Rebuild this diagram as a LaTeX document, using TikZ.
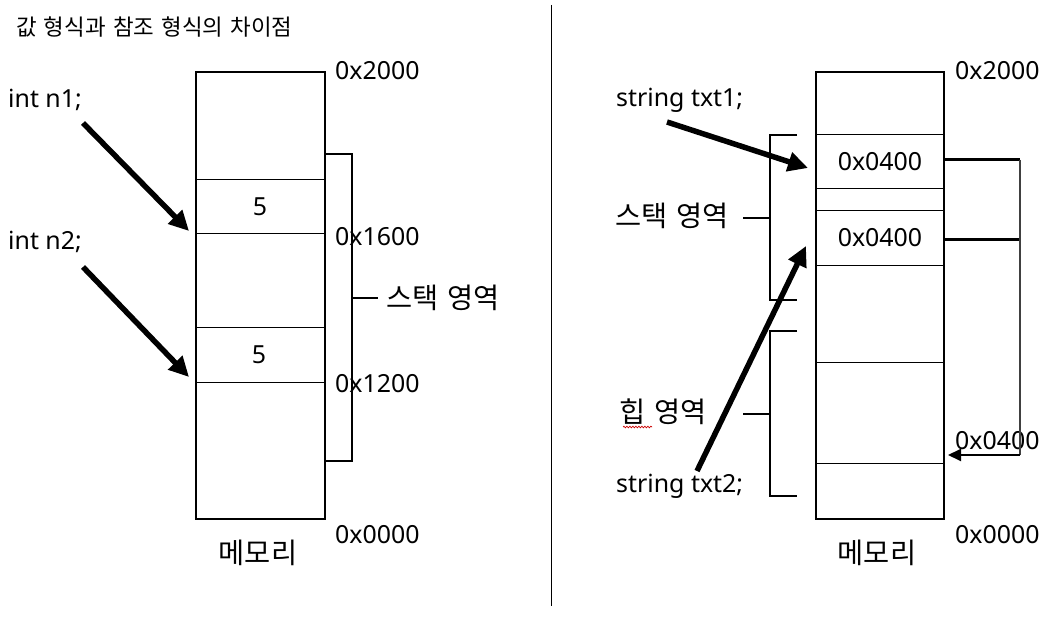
\documentclass[tikz,border=0pt]{standalone}
\usepackage{fontspec}
\setmainfont{Noto Sans}
\newfontfamily\kr{Noto Sans CJK KR}
\usetikzlibrary{arrows.meta,decorations.pathmorphing}
\newcommand{\ksp}{\hspace{0.32em}}
\begin{document}
\begin{tikzpicture}[x=1bp,y=-1bp,
  lbl/.style={font=\fontsize{25}{30}\selectfont, inner sep=0pt},
  krl/.style={font=\kr\fontsize{28.5}{32}\selectfont, inner sep=0pt},
  ttl/.style={font=\kr\fontsize{22.5}{26}\selectfont, inner sep=0pt},
  membox/.style={draw=black, line width=2bp},
  cellline/.style={draw=black, line width=1bp},
  brk/.style={draw=black, line width=2bp},
  bigarrow/.style={draw=black, line width=5.5bp, -{Triangle[length=20bp,width=19bp]}},
  ptrline/.style={draw=black, line width=3bp},
  ptrvert/.style={draw=black!75, line width=1.8bp},
  ptrarrow/.style={draw=black, line width=2bp, -{Triangle[length=13bp,width=12bp]}},
  divider/.style={draw=black, line width=1bp}
]
\useasboundingbox (0,0) rectangle (1053,624);
\fill[white] (0,0) rectangle (1053,624);

% title and divider
\node[ttl, anchor=west] (title) at (16,27) {값\ksp 형식과\ksp 참조\ksp 형식의\ksp 차이점};
\draw[divider] (551,5) coordinate (dtop) -- (551,606) coordinate (dbot);

% ===== left: value type =====
\draw[membox] (196,72) coordinate (mLtl) rectangle (325,519) coordinate (mLbr);
\draw[cellline] (196,180) -- (325,180);
\draw[cellline] (196,234) -- (325,234);
\draw[cellline] (196,327) -- (325,327);
\draw[cellline] (196,382) -- (325,382);
\node[lbl] (v1) at (260,207) {5};
\node[lbl] (v2) at (259,355) {5};

\node[lbl, anchor=west] (a2000) at (335,71) {0x2000};
\node[lbl, anchor=west] (a1600) at (335,237) {0x1600};
\node[lbl, anchor=west] (a1200) at (335,384) {0x1200};
\node[lbl, anchor=west] (a0000) at (335,535) {0x0000};
\node[krl] (memL) at (258,553) {메모리};

\draw[brk] (325,154) -- (352,154) -- (352,461) -- (325,461);
\coordinate (stkLb) at (352,298);
\coordinate (stkLe) at (378,298);
\draw[brk] (stkLb) -- (stkLe);
\node[krl, anchor=west] (stkL) at (386,298) {스택\ksp 영역};

\node[lbl, anchor=west] (n1) at (8,100) {int n1;};
\node[lbl, anchor=west] (n2) at (8,242) {int n2;};
\coordinate (n1s) at (83,123);
\coordinate (n1e) at (189,231);
\coordinate (n2s) at (83,267);
\coordinate (n2e) at (189,377);
\draw[bigarrow] (n1s) -- (n1e);
\draw[bigarrow] (n2s) -- (n2e);

% ===== right: reference type =====
\draw[membox] (816,72) coordinate (mRtl) rectangle (944,519) coordinate (mRbr);
\draw[cellline] (816,135) -- (944,135);
\draw[cellline] (816,189) -- (944,189);
\draw[cellline] (816,211) -- (944,211);
\draw[cellline] (816,266) -- (944,266);
\draw[cellline] (816,362) -- (944,362);
\draw[cellline] (816,463) -- (944,463);
\node[lbl] (p1) at (880,162) {0x0400};
\node[lbl] (p2) at (880,238) {0x0400};

\node[lbl, anchor=west] (b2000) at (955,71) {0x2000};
\node[lbl, anchor=west] (b0400) at (955,441) {0x0400};
\node[lbl, anchor=west] (b0000) at (955,535) {0x0000};
\node[krl] (memR) at (877,553) {메모리};

% brackets
\draw[brk] (797,135) -- (770,135) -- (770,300) -- (797,300);
\draw[brk] (743,218) -- (770,218);
\node[krl, anchor=east] (stkR) at (729,216) {스택\ksp 영역};
\draw[brk] (797,331) -- (770,331) -- (770,496) -- (797,496);
\draw[brk] (743,414) -- (770,414);
\node[krl, anchor=west] (heap) at (619,412) {힙\ksp 영역};
\draw[red!80!black, line width=0.7bp, decorate,
  decoration={snake, amplitude=0.8bp, segment length=3bp}] (623,427) -- (652,427);

% pointers
\coordinate (q1) at (944,160);
\coordinate (q2) at (944,240);
\coordinate (c1) at (1020,160);
\coordinate (c2) at (1020,240);
\coordinate (c3) at (1020,455);
\coordinate (h1) at (948,455);
\draw[ptrline] (q1) -- (c1);
\draw[ptrline] (q2) -- (c2);
\draw[ptrvert] (c1) -- (c3);
\draw[ptrarrow] (c3) -- (h1);

\node[lbl, anchor=west] (t1) at (616,100) {string txt1;};
\node[lbl, anchor=west] (t2) at (616,486) {string txt2;};
\coordinate (t1s) at (667,122);
\coordinate (t1e) at (808,168);
\coordinate (t2s) at (697,471);
\coordinate (t2e) at (806,246);
\draw[bigarrow] (t1s) -- (t1e);
\draw[bigarrow] (t2s) -- (t2e);
\end{tikzpicture}
\end{document}
